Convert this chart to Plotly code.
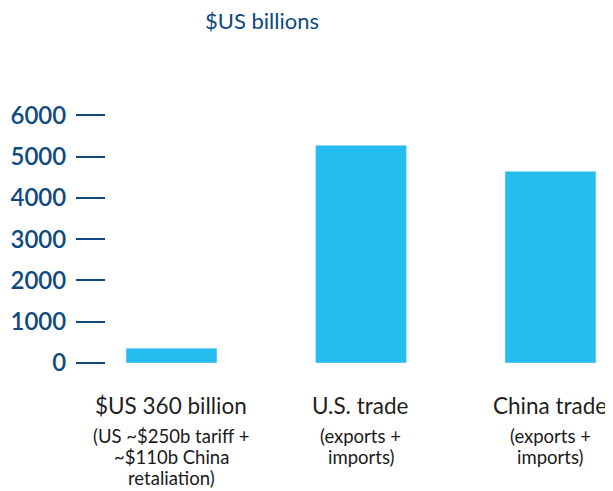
import plotly.graph_objects as go

categories = ["$US 360 billion", "U.S. trade", "China trade"]
sublabels = [["(US ~$250b tariff +", "~$110b China", "retaliation)"],
             ["(exports +", "imports)"],
             ["(exports +", "imports)"]]
values = [360, 5270, 4640]
y_ticks = [0, 1000, 2000, 3000, 4000, 5000, 6000]

navy = "#0e4a80"
font = "Lato, 'Open Sans', sans-serif"

fig = go.Figure()
fig.add_trace(go.Bar(
    x=list(range(len(categories))),
    y=values,
    marker_color="#25bdef",
    width=0.48,
))

# category labels under each bar, one annotation per line to keep the leading tight
for i, (cat, sub) in enumerate(zip(categories, sublabels)):
    fig.add_annotation(x=i, y=0, xref="x", yref="paper", text=cat,
                       showarrow=False, yanchor="middle", yshift=-42,
                       font=dict(family=font, size=22.5, color="#1f1f1f"))
    for j, line in enumerate(sub):
        fig.add_annotation(x=i, y=0, xref="x", yref="paper", text=line,
                           showarrow=False, yanchor="middle", yshift=-73 - 21 * j,
                           borderpad=0,
                           font=dict(family=font, size=18.5, color="#1a1a1a"))

fig.update_layout(
    width=605, height=483,
    margin=dict(l=98, r=0, t=101, b=128),
    paper_bgcolor="white", plot_bgcolor="white",
    showlegend=False,
    title=dict(text="$US billions", x=254 / 605, xanchor="center", y=0.972, yanchor="middle",
               font=dict(family=font, size=22, color=navy)),
    xaxis=dict(range=[-0.3456, 2.33], showticklabels=False, showgrid=False,
               zeroline=False, showline=False, ticks=""),
    yaxis=dict(range=[0, 6150], tickvals=y_ticks, showgrid=False, zeroline=False,
               showline=False, ticks="outside", ticklen=29, tickwidth=1.5,
               tickcolor=navy, ticklabelstandoff=5,
               tickfont=dict(family=font, size=24, color=navy, weight=600)),
)

fig.write_html("out.html")
